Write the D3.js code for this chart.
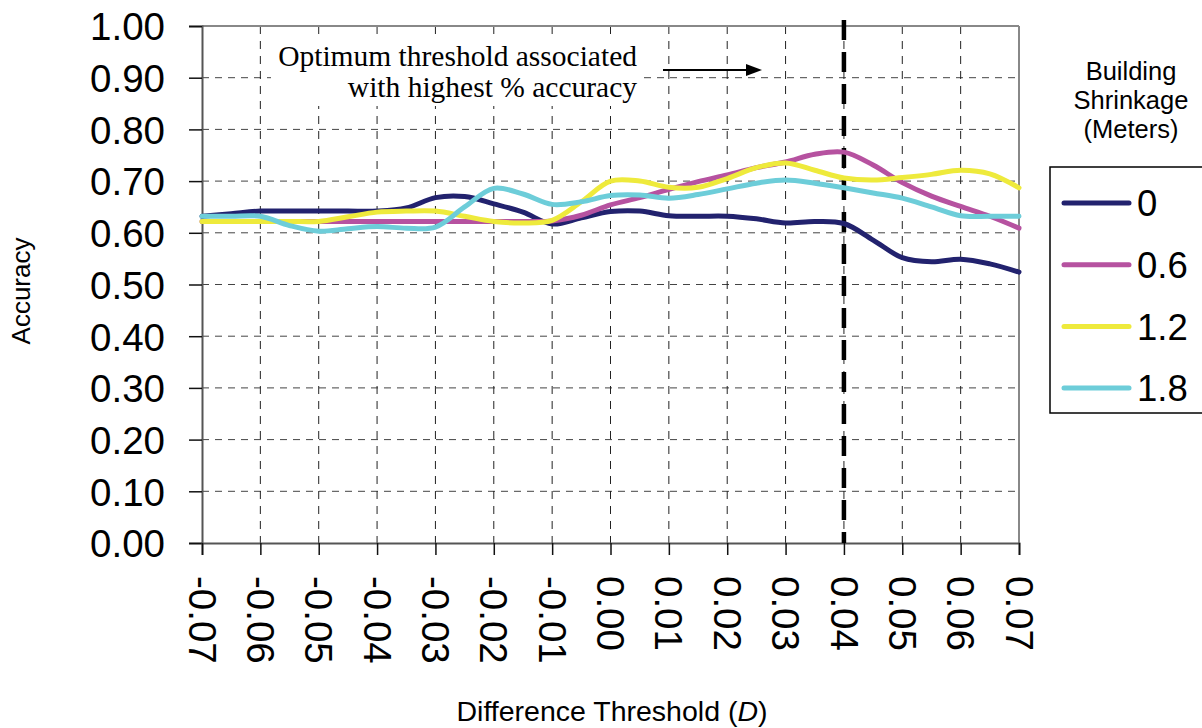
<!DOCTYPE html>
<html><head><meta charset="utf-8">
<script src="https://cdn.jsdelivr.net/npm/d3@7"></script>
<style>body{margin:0;background:#fff;} svg{display:block;}</style>
</head><body>
<svg id="chart" width="1202" height="728"></svg>
<script>
const thresholds = [-0.07,-0.065,-0.06,-0.055,-0.05,-0.045,-0.04,-0.035,-0.03,-0.025,-0.02,-0.015,-0.01,-0.005,0,0.005,0.01,0.015,0.02,0.025,0.03,0.035,0.04,0.045,0.05,0.055,0.06,0.065,0.07];
const shrink0  = [0.632,0.637,0.642,0.642,0.642,0.642,0.642,0.648,0.668,0.670,0.656,0.640,0.617,0.629,0.641,0.642,0.633,0.632,0.632,0.627,0.619,0.622,0.618,0.586,0.552,0.544,0.549,0.540,0.524];
const shrink06 = [0.622,0.622,0.622,0.622,0.622,0.622,0.622,0.622,0.622,0.622,0.622,0.622,0.623,0.634,0.654,0.668,0.684,0.699,0.712,0.726,0.737,0.752,0.756,0.731,0.697,0.671,0.651,0.632,0.609];
const shrink12 = [0.622,0.622,0.622,0.622,0.622,0.631,0.640,0.642,0.642,0.632,0.622,0.619,0.624,0.660,0.700,0.700,0.688,0.688,0.705,0.726,0.735,0.721,0.706,0.702,0.707,0.713,0.721,0.714,0.687];
const shrink18 = [0.632,0.632,0.632,0.614,0.603,0.608,0.612,0.609,0.611,0.650,0.686,0.675,0.655,0.660,0.672,0.673,0.667,0.674,0.685,0.696,0.702,0.696,0.687,0.677,0.667,0.650,0.633,0.632,0.632];
const seriesNames = ["0","0.6","1.2","1.8"];
const seriesColors = ["#22226e","#b652a0","#eeea3c","#6dcdd9"];
const xTicks = [-0.07,-0.06,-0.05,-0.04,-0.03,-0.02,-0.01,0,0.01,0.02,0.03,0.04,0.05,0.06,0.07];
const yTicks = [0,0.1,0.2,0.3,0.4,0.5,0.6,0.7,0.8,0.9,1.0];
const optimum = 0.04;

const svg = d3.select("#chart");
const L = 202, R = 1019, T = 26, B = 543;
const x = d3.scaleLinear().domain([-0.07,0.07]).range([L,R]);
const y = d3.scaleLinear().domain([0,1]).range([B,T]);

// gridlines
svg.append("g").selectAll("line").data(yTicks.filter(v=>v>0 && v<1)).join("line")
  .attr("x1",L).attr("x2",R).attr("y1",d=>y(d)).attr("y2",d=>y(d))
  .attr("stroke","#444").attr("stroke-width",1).attr("stroke-dasharray","7,6");
svg.append("g").selectAll("line").data(xTicks.slice(1,-1)).join("line")
  .attr("x1",d=>x(d)).attr("x2",d=>x(d)).attr("y1",T).attr("y2",B)
  .attr("stroke","#222").attr("stroke-width",1).attr("stroke-dasharray","8,7");

// frame top/right
svg.append("line").attr("x1",L).attr("x2",R).attr("y1",T).attr("y2",T).attr("stroke","#888").attr("stroke-width",2);
svg.append("line").attr("x1",R).attr("x2",R).attr("y1",T).attr("y2",B).attr("stroke","#888").attr("stroke-width",2);

// annotation background
svg.append("rect").attr("x",271).attr("y",40).attr("width",370).attr("height",66).attr("fill","#fff");

// axes
const yAxis = d3.axisLeft(y).tickValues(yTicks).tickFormat(d3.format(".2f")).tickSize(13).tickPadding(24);
const gy = svg.append("g").attr("transform",`translate(${L},0)`).call(yAxis);
gy.select(".domain").attr("stroke","#555").attr("stroke-width",2);
gy.selectAll(".tick line").attr("stroke","#111").attr("stroke-width",1.5);
gy.selectAll(".tick text").attr("font-family","Liberation Sans, Arial, sans-serif").attr("font-size",38.5).attr("fill","#000").attr("dy","0.36em");

const xAxis = d3.axisBottom(x).tickValues(xTicks).tickFormat(d3.format(".2f")).tickSize(12);
const gx = svg.append("g").attr("transform",`translate(0,${B})`).call(xAxis);
gx.select(".domain").attr("stroke","#555").attr("stroke-width",2);
gx.selectAll(".tick line").attr("stroke","#111").attr("stroke-width",1.5);
gx.selectAll(".tick text").attr("font-family","Liberation Sans, Arial, sans-serif").attr("font-size",38.5).attr("fill","#000")
  .attr("transform","rotate(90)").attr("text-anchor","start").attr("x",33).attr("y",0).attr("dy","0.36em")
  .text(d=>d3.format(".2f")(d).replace("−","-"));

// optimum line
svg.append("line").attr("x1",x(optimum)).attr("x2",x(optimum)).attr("y1",20).attr("y2",B)
  .attr("stroke","#000").attr("stroke-width",4.5).attr("stroke-dasharray","20,12");

// data lines
const seriesData = [shrink0,shrink06,shrink12,shrink18];
const line = d3.line().x((d,i)=>x(thresholds[i])).y(d=>y(d)).curve(d3.curveCatmullRom.alpha(0.5));
svg.append("g").selectAll("path").data(seriesData).join("path")
  .attr("d",d=>line(d)).attr("fill","none").attr("stroke",(d,i)=>seriesColors[i])
  .attr("stroke-width",5).attr("stroke-linejoin","round").attr("stroke-linecap","round");

// annotation
const ann = svg.append("text").attr("font-family","Liberation Serif, Times New Roman, serif").attr("font-size",29.5).attr("text-anchor","end").attr("fill","#000");
ann.append("tspan").attr("x",637).attr("y",66).text("Optimum threshold associated");
ann.append("tspan").attr("x",637).attr("y",97).text("with highest % accuracy");
svg.append("line").attr("x1",663).attr("x2",748).attr("y1",70).attr("y2",70).attr("stroke","#000").attr("stroke-width",2);
svg.append("path").attr("d","M746,64 L762,70 L746,76 Z").attr("fill","#000");

// axis titles
svg.append("text").attr("transform","translate(30,291) rotate(-90)").attr("text-anchor","middle")
  .attr("font-family","Liberation Sans, Arial, sans-serif").attr("font-size",26).text("Accuracy");
const xt = svg.append("text").attr("x",612).attr("y",721).attr("text-anchor","middle")
  .attr("font-family","Liberation Sans, Arial, sans-serif").attr("font-size",28.5);
xt.append("tspan").text("Difference Threshold (");
xt.append("tspan").attr("font-style","italic").text("D");
xt.append("tspan").text(")");

// legend
const lt = svg.append("text").attr("text-anchor","middle").attr("font-family","Liberation Sans, Arial, sans-serif").attr("font-size",25.5);
["Building","Shrinkage","(Meters)"].forEach((s,i)=>lt.append("tspan").attr("x",1131).attr("y",80+i*29).text(s));
svg.append("rect").attr("x",1050).attr("y",167).attr("width",160).attr("height",246).attr("fill","none").attr("stroke","#000").attr("stroke-width",1.5);
const lg = svg.append("g").selectAll("g").data(seriesNames).join("g").attr("transform",(d,i)=>`translate(0,${203+i*61.7})`);
lg.append("line").attr("x1",1064).attr("x2",1129).attr("stroke",(d,i)=>seriesColors[i]).attr("stroke-width",5).attr("stroke-linecap","round");
lg.append("text").attr("x",1137).attr("y",0).attr("dy","0.36em").attr("font-family","Liberation Sans, Arial, sans-serif").attr("font-size",36.5).text(d=>d);
</script>
</body></html>
